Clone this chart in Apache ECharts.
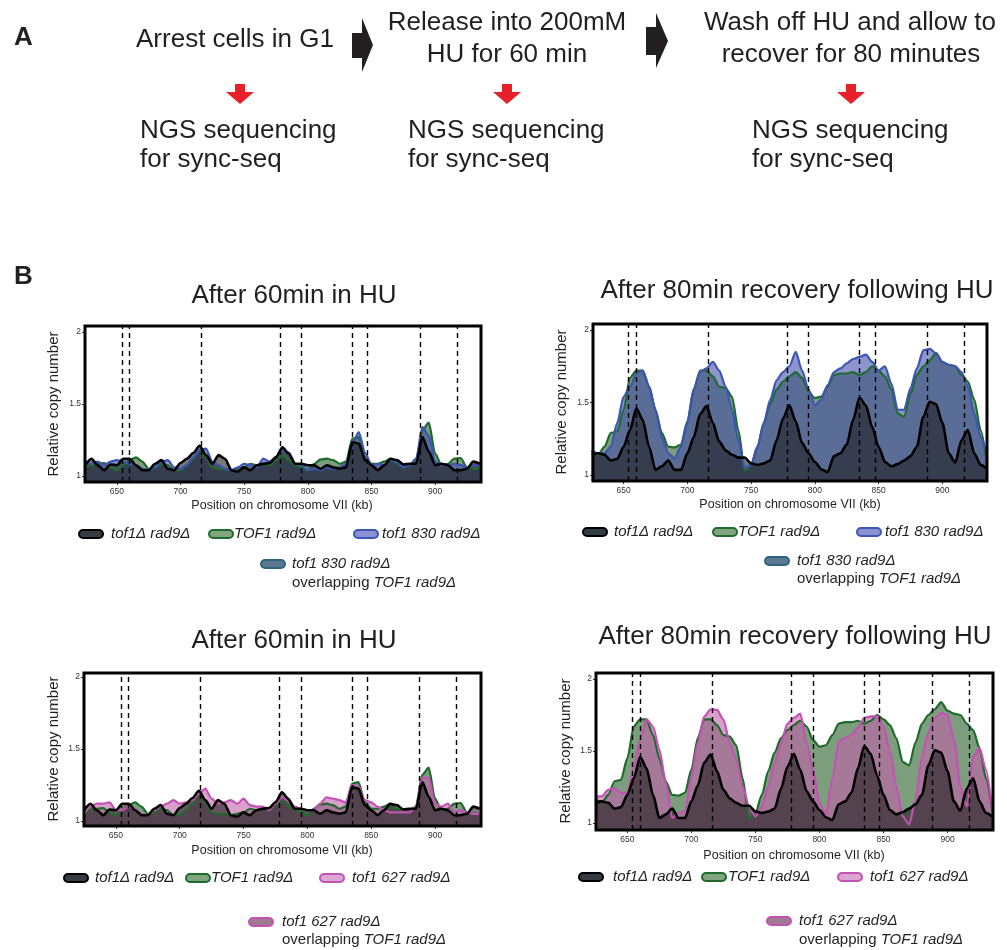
<!DOCTYPE html>
<html>
<head>
<meta charset="utf-8">
<script src="https://cdn.jsdelivr.net/npm/echarts@6/dist/echarts.min.js"></script>
<style>html,body{margin:0;padding:0;background:#fff}#c{width:1007px;height:950px}</style>
</head>
<body>
<div id="c"></div>
<script>
// ---- data (positions in kb on chromosome VII) ----
const positions = [625,630,635,640,645,650,655,660,665,670,675,680,685,690,695,700,705,710,715,720,725,730,735,740,745,750,755,760,765,770,775,780,785,790,795,800,805,810,815,820,825,830,835,840,845,850,855,860,865,870,875,880,885,890,895,900,905,910,915,920,925,930,935];
const xTicks = [650,700,750,800,850,900];
const yTicks = [1,1.5,2];
const origins = [654,660,716,778,795,835,847,888,917];

// After 60 min in HU
const tof1del_60 = [1.075,1.12,1.075,1.04,1.08,1.075,1.12,1.12,1.075,1.04,1.04,1.085,1.11,1.05,1.04,1.09,1.12,1.16,1.21,1.145,1.085,1.145,1.12,1.04,1.03,1.06,1.04,1.075,1.085,1.09,1.13,1.20,1.155,1.085,1.085,1.075,1.075,1.05,1.075,1.06,1.05,1.06,1.235,1.225,1.11,1.075,1.04,1.075,1.12,1.11,1.08,1.085,1.085,1.27,1.17,1.075,1.085,1.075,1.04,1.04,1.05,1.10,1.085];
const TOF1_60 = [1.06,1.075,1.085,1.09,1.06,1.04,1.075,1.11,1.13,1.10,1.05,1.06,1.085,1.075,1.04,1.04,1.075,1.12,1.18,1.13,1.06,1.05,1.05,1.04,1.05,1.06,1.085,1.075,1.085,1.075,1.11,1.145,1.11,1.075,1.06,1.04,1.085,1.115,1.12,1.11,1.085,1.10,1.26,1.27,1.13,1.085,1.085,1.10,1.12,1.085,1.06,1.075,1.10,1.32,1.37,1.155,1.075,1.085,1.12,1.125,1.06,1.05,1.05];
const tof1_830_60 = [1.10,1.085,1.10,1.075,1.10,1.11,1.10,1.085,1.075,1.05,1.04,1.06,1.10,1.11,1.06,1.05,1.075,1.13,1.18,1.19,1.10,1.075,1.05,1.04,1.06,1.085,1.075,1.06,1.12,1.10,1.13,1.18,1.165,1.085,1.075,1.04,1.05,1.04,1.06,1.05,1.06,1.085,1.225,1.305,1.16,1.075,1.085,1.075,1.11,1.10,1.06,1.075,1.12,1.34,1.28,1.10,1.075,1.075,1.085,1.075,1.06,1.075,1.085];
const tof1_627_60 = [1.05,1.10,1.12,1.12,1.13,1.075,1.075,1.10,1.085,1.05,1.04,1.075,1.10,1.12,1.145,1.12,1.13,1.145,1.19,1.225,1.155,1.12,1.13,1.145,1.12,1.155,1.11,1.10,1.10,1.075,1.12,1.165,1.145,1.10,1.085,1.075,1.075,1.12,1.165,1.155,1.145,1.13,1.25,1.24,1.145,1.13,1.10,1.075,1.06,1.06,1.06,1.06,1.10,1.30,1.30,1.12,1.10,1.12,1.06,1.075,1.06,1.05,1.05];

// After 80 min recovery following HU
const tof1del_80 = [1.14,1.15,1.14,1.10,1.11,1.195,1.31,1.46,1.38,1.195,1.035,1.06,1.10,1.035,1.035,1.15,1.26,1.42,1.475,1.36,1.23,1.17,1.14,1.12,1.12,1.08,1.07,1.08,1.10,1.24,1.39,1.48,1.37,1.22,1.15,1.09,1.04,1.02,1.13,1.15,1.21,1.38,1.535,1.48,1.33,1.195,1.09,1.06,1.075,1.10,1.13,1.195,1.40,1.505,1.49,1.36,1.15,1.085,1.24,1.31,1.15,1.07,1.045];
const TOF1_80 = [1.17,1.14,1.195,1.29,1.30,1.45,1.67,1.72,1.72,1.61,1.45,1.29,1.195,1.19,1.21,1.37,1.59,1.72,1.72,1.68,1.61,1.60,1.54,1.31,1.03,1.07,1.195,1.36,1.49,1.59,1.645,1.68,1.71,1.67,1.575,1.53,1.54,1.61,1.69,1.70,1.70,1.71,1.69,1.71,1.75,1.72,1.68,1.59,1.425,1.40,1.56,1.69,1.75,1.79,1.84,1.78,1.76,1.75,1.69,1.645,1.52,1.31,1.08];
const tof1_830_80 = [1.17,1.15,1.15,1.195,1.36,1.54,1.61,1.70,1.72,1.61,1.45,1.26,1.15,1.115,1.195,1.36,1.59,1.71,1.735,1.78,1.72,1.61,1.45,1.24,1.05,1.07,1.195,1.36,1.52,1.655,1.71,1.75,1.85,1.72,1.59,1.48,1.52,1.62,1.71,1.735,1.77,1.80,1.815,1.83,1.78,1.72,1.75,1.63,1.45,1.45,1.60,1.735,1.86,1.87,1.84,1.78,1.76,1.75,1.71,1.61,1.425,1.26,1.15];
const tof1_627_80 = [1.185,1.185,1.23,1.24,1.21,1.21,1.39,1.58,1.72,1.67,1.51,1.28,1.035,1.07,1.08,1.32,1.555,1.74,1.79,1.785,1.72,1.555,1.44,1.255,1.115,1.045,1.115,1.255,1.415,1.555,1.69,1.73,1.76,1.555,1.37,1.14,1.06,1.30,1.565,1.59,1.61,1.66,1.73,1.74,1.74,1.67,1.50,1.255,1.045,0.99,1.16,1.46,1.625,1.73,1.765,1.75,1.58,1.255,1.115,1.46,1.52,1.37,1.08];

// ---- styles ----
const FONT = '"Liberation Sans", Arial, Helvetica, sans-serif';
const TXT = '#231f20';
const C = {
  del:  {line:'#000000', fill:'#1e1e1e', chip:'#343c44', chipB:'#000000'},
  TOF1: {line:'#1f6b2c', fill:'#265d25', chip:'#80a57f', chipB:'#1f6b2c'},
  m830: {line:'#3c55b4', fill:'#434daa', chip:'#8a90d0', chipB:'#3c55b8'},
  m627: {line:'#c352b4', fill:'#c061aa', chip:'#dba6d2', chipB:'#c352b4'},
  ov830:{chip:'#5c7890', chipB:'#2e6480'},
  ov627:{chip:'#a07a90', chipB:'#c352b4'}
};

const grids = [
  {left:85, top:326, width:396, height:156},
  {left:593, top:324, width:394, height:157},
  {left:84, top:673, width:397, height:153},
  {left:596, top:673, width:397, height:157}
];
const xRanges = [[625,936],[626,935],[625,936],[625.5,935.5]];
const yRanges = [[0.9583,2.0417],[0.9586,2.0414],[0.9653,2.0278],[0.9514,2.0417]];

function area(name, vals, gi, col, lw, withMarks){
  const s = {
    type:'line', name, xAxisIndex:gi, yAxisIndex:gi,
    data: positions.map((p,i)=>[p, vals[i]]),
    showSymbol:false, symbol:'none', smooth:0.25, smoothMonotone:'x',
    lineStyle:{color:col.line, width:lw},
    itemStyle:{color:col.line},
    areaStyle:{color:col.fill, opacity:0.6, origin:'start'},
    emphasis:{disabled:true}, silent:true
  };
  if (withMarks) {
    s.markLine = {silent:true, symbol:['none','none'], label:{show:false},
      lineStyle:{color:'#000', type:[5,4], width:1.4},
      emphasis:{disabled:true},
      data: origins.map(v=>({xAxis:v}))};
  }
  return s;
}

const series = [
  area('TOF1 rad9Δ', TOF1_60, 0, C.TOF1, 2.2), area('tof1 830 rad9Δ', tof1_830_60, 0, C.m830, 2.2), area('tof1Δ rad9Δ', tof1del_60, 0, C.del, 2.6, true),
  area('TOF1 rad9Δ', TOF1_80, 1, C.TOF1, 2.2), area('tof1 830 rad9Δ', tof1_830_80, 1, C.m830, 2.2), area('tof1Δ rad9Δ', tof1del_80, 1, C.del, 2.6, true),
  area('TOF1 rad9Δ', TOF1_60, 2, C.TOF1, 2.2), area('tof1 627 rad9Δ', tof1_627_60, 2, C.m627, 2.2), area('tof1Δ rad9Δ', tof1del_60, 2, C.del, 2.6, true),
  area('TOF1 rad9Δ', TOF1_80, 3, C.TOF1, 2.2), area('tof1 627 rad9Δ', tof1_627_80, 3, C.m627, 2.2), area('tof1Δ rad9Δ', tof1del_80, 3, C.del, 2.6, true)
];

const xAxis = grids.map((g,i)=>({
  type:'value', gridIndex:i, min:xRanges[i][0], max:xRanges[i][1],
  axisLine:{show:false}, splitLine:{show:false},
  axisTick:{show:true, customValues:xTicks, length:3, lineStyle:{color:'#333', width:1}},
  axisLabel:{customValues:xTicks, fontSize:8.5, color:'#333', margin:5, fontFamily:FONT}
}));
const yAxis = grids.map((g,i)=>({
  type:'value', gridIndex:i, min:yRanges[i][0], max:yRanges[i][1],
  axisLine:{show:false}, splitLine:{show:false},
  axisTick:{show:true, customValues:yTicks, length:3, lineStyle:{color:'#333', width:1}},
  axisLabel:{customValues:yTicks, fontSize:8.5, color:'#333', margin:4, fontFamily:FONT}
}));

// ---- graphic helpers ----
function txt(x, y, text, size, opt){
  opt = opt || {};
  return {type:'text', x, y, rotation:opt.rot||0, z:50,
    style:{text, fontSize:size, fontFamily:FONT, fontStyle:opt.italic?'italic':'normal',
      fontWeight:opt.bold?'bold':'normal', fill:opt.color||TXT,
      textAlign:opt.align||'left', textVerticalAlign:'middle', rich:opt.rich}};
}
function chip(x, y, c){
  return {type:'rect', z:50, shape:{x:x, y:y-4, width:24, height:8, r:4},
    style:{fill:c.chip, stroke:c.chipB, lineWidth:2}};
}
function redArrow(cx){
  return {type:'polygon', z:50, shape:{points:[[cx-5,84],[cx+5,84],[cx+5,92],[cx+14,92],[cx,104],[cx-14,92],[cx-5,92]]}, style:{fill:'#e8202a'}};
}
const richOv = {
  n:{fontSize:15, fontFamily:FONT, fontStyle:'normal', fill:TXT},
  i:{fontSize:15, fontFamily:FONT, fontStyle:'italic', fill:TXT}
};

const graphic = [
  txt(14, 38, 'A', 26, {bold:true}),
  txt(235, 40, 'Arrest cells in G1', 26, {align:'center'}),
  txt(507, 23, 'Release into 200mM', 26, {align:'center'}),
  txt(507, 55, 'HU for 60 min', 26, {align:'center'}),
  txt(850, 23, 'Wash off HU and allow to', 26, {align:'center'}),
  txt(851, 55, 'recover for 80 minutes', 26, {align:'center'}),
  {type:'polygon', z:50, shape:{points:[[352,33],[362,33],[362,18],[373,45],[362,72],[362,58],[352,58]]}, style:{fill:'#231f20'}},
  {type:'polygon', z:50, shape:{points:[[646,27],[656,27],[656,13],[668,41],[656,68],[656,55],[646,55]]}, style:{fill:'#231f20'}},
  redArrow(240), redArrow(507), redArrow(851),
  txt(140, 131, 'NGS sequencing', 26), txt(140, 160, 'for sync-seq', 26),
  txt(408, 131, 'NGS sequencing', 26), txt(408, 160, 'for sync-seq', 26),
  txt(752, 131, 'NGS sequencing', 26), txt(752, 160, 'for sync-seq', 26),
  txt(14, 277, 'B', 26, {bold:true}),
  // titles
  txt(294, 296, 'After 60min in HU', 26, {align:'center'}),
  txt(797, 291, 'After 80min recovery following HU', 26, {align:'center'}),
  txt(294, 641, 'After 60min in HU', 26, {align:'center'}),
  txt(795, 637, 'After 80min recovery following HU', 26, {align:'center'}),
  // axis names
  txt(282, 506, 'Position on chromosome VII (kb)', 12.5, {align:'center'}),
  txt(790, 505, 'Position on chromosome VII (kb)', 12.5, {align:'center'}),
  txt(282, 851, 'Position on chromosome VII (kb)', 12.5, {align:'center'}),
  txt(794, 856, 'Position on chromosome VII (kb)', 12.5, {align:'center'}),
  txt(54, 404, 'Relative copy number', 15, {align:'center', rot:Math.PI/2}),
  txt(562, 402, 'Relative copy number', 15, {align:'center', rot:Math.PI/2}),
  txt(54, 749, 'Relative copy number', 15, {align:'center', rot:Math.PI/2}),
  txt(566, 751, 'Relative copy number', 15, {align:'center', rot:Math.PI/2}),
  // legend top-left
  chip(79, 534, C.del), txt(111, 534, 'tof1Δ rad9Δ', 15, {italic:true}),
  chip(209, 534, C.TOF1), txt(234, 534, 'TOF1 rad9Δ', 15, {italic:true}),
  chip(354, 534, C.m830), txt(382, 534, 'tof1 830 rad9Δ', 15, {italic:true}),
  chip(261, 564, C.ov830), txt(292, 564, 'tof1 830 rad9Δ', 15, {italic:true}),
  txt(292, 583, '{n|overlapping }{i|TOF1 rad9Δ}', 15, {rich:richOv}),
  // legend top-right
  chip(583, 532, C.del), txt(614, 532, 'tof1Δ rad9Δ', 15, {italic:true}),
  chip(713, 532, C.TOF1), txt(738, 532, 'TOF1 rad9Δ', 15, {italic:true}),
  chip(857, 532, C.m830), txt(885, 532, 'tof1 830 rad9Δ', 15, {italic:true}),
  chip(765, 561, C.ov830), txt(797, 561, 'tof1 830 rad9Δ', 15, {italic:true}),
  txt(797, 579, '{n|overlapping }{i|TOF1 rad9Δ}', 15, {rich:richOv}),
  // legend bottom-left
  chip(64, 878, C.del), txt(95, 878, 'tof1Δ rad9Δ', 15, {italic:true}),
  chip(186, 878, C.TOF1), txt(211, 878, 'TOF1 rad9Δ', 15, {italic:true}),
  chip(320, 878, C.m627), txt(352, 878, 'tof1 627 rad9Δ', 15, {italic:true}),
  chip(249, 922, C.ov627), txt(282, 922, 'tof1 627 rad9Δ', 15, {italic:true}),
  txt(282, 940, '{n|overlapping }{i|TOF1 rad9Δ}', 15, {rich:richOv}),
  // legend bottom-right
  chip(579, 877, C.del), txt(613, 877, 'tof1Δ rad9Δ', 15, {italic:true}),
  chip(702, 877, C.TOF1), txt(728, 877, 'TOF1 rad9Δ', 15, {italic:true}),
  chip(838, 877, C.m627), txt(870, 877, 'tof1 627 rad9Δ', 15, {italic:true}),
  chip(767, 921, C.ov627), txt(799, 921, 'tof1 627 rad9Δ', 15, {italic:true}),
  txt(799, 940, '{n|overlapping }{i|TOF1 rad9Δ}', 15, {rich:richOv})
];
// plot frames on top of the areas
grids.forEach(g=>graphic.push({type:'rect', z:100, shape:{x:g.left, y:g.top, width:g.width, height:g.height}, style:{fill:'none', stroke:'#000', lineWidth:3}}));

const chart = echarts.init(document.getElementById('c'), null, {renderer:'canvas'});
chart.setOption({
  backgroundColor:'#ffffff',
  animation:false,
  textStyle:{fontFamily:FONT},
  grid: grids.map(g=>Object.assign({containLabel:false, show:false}, g)),
  xAxis, yAxis, series, graphic
});
</script>
</body>
</html>
